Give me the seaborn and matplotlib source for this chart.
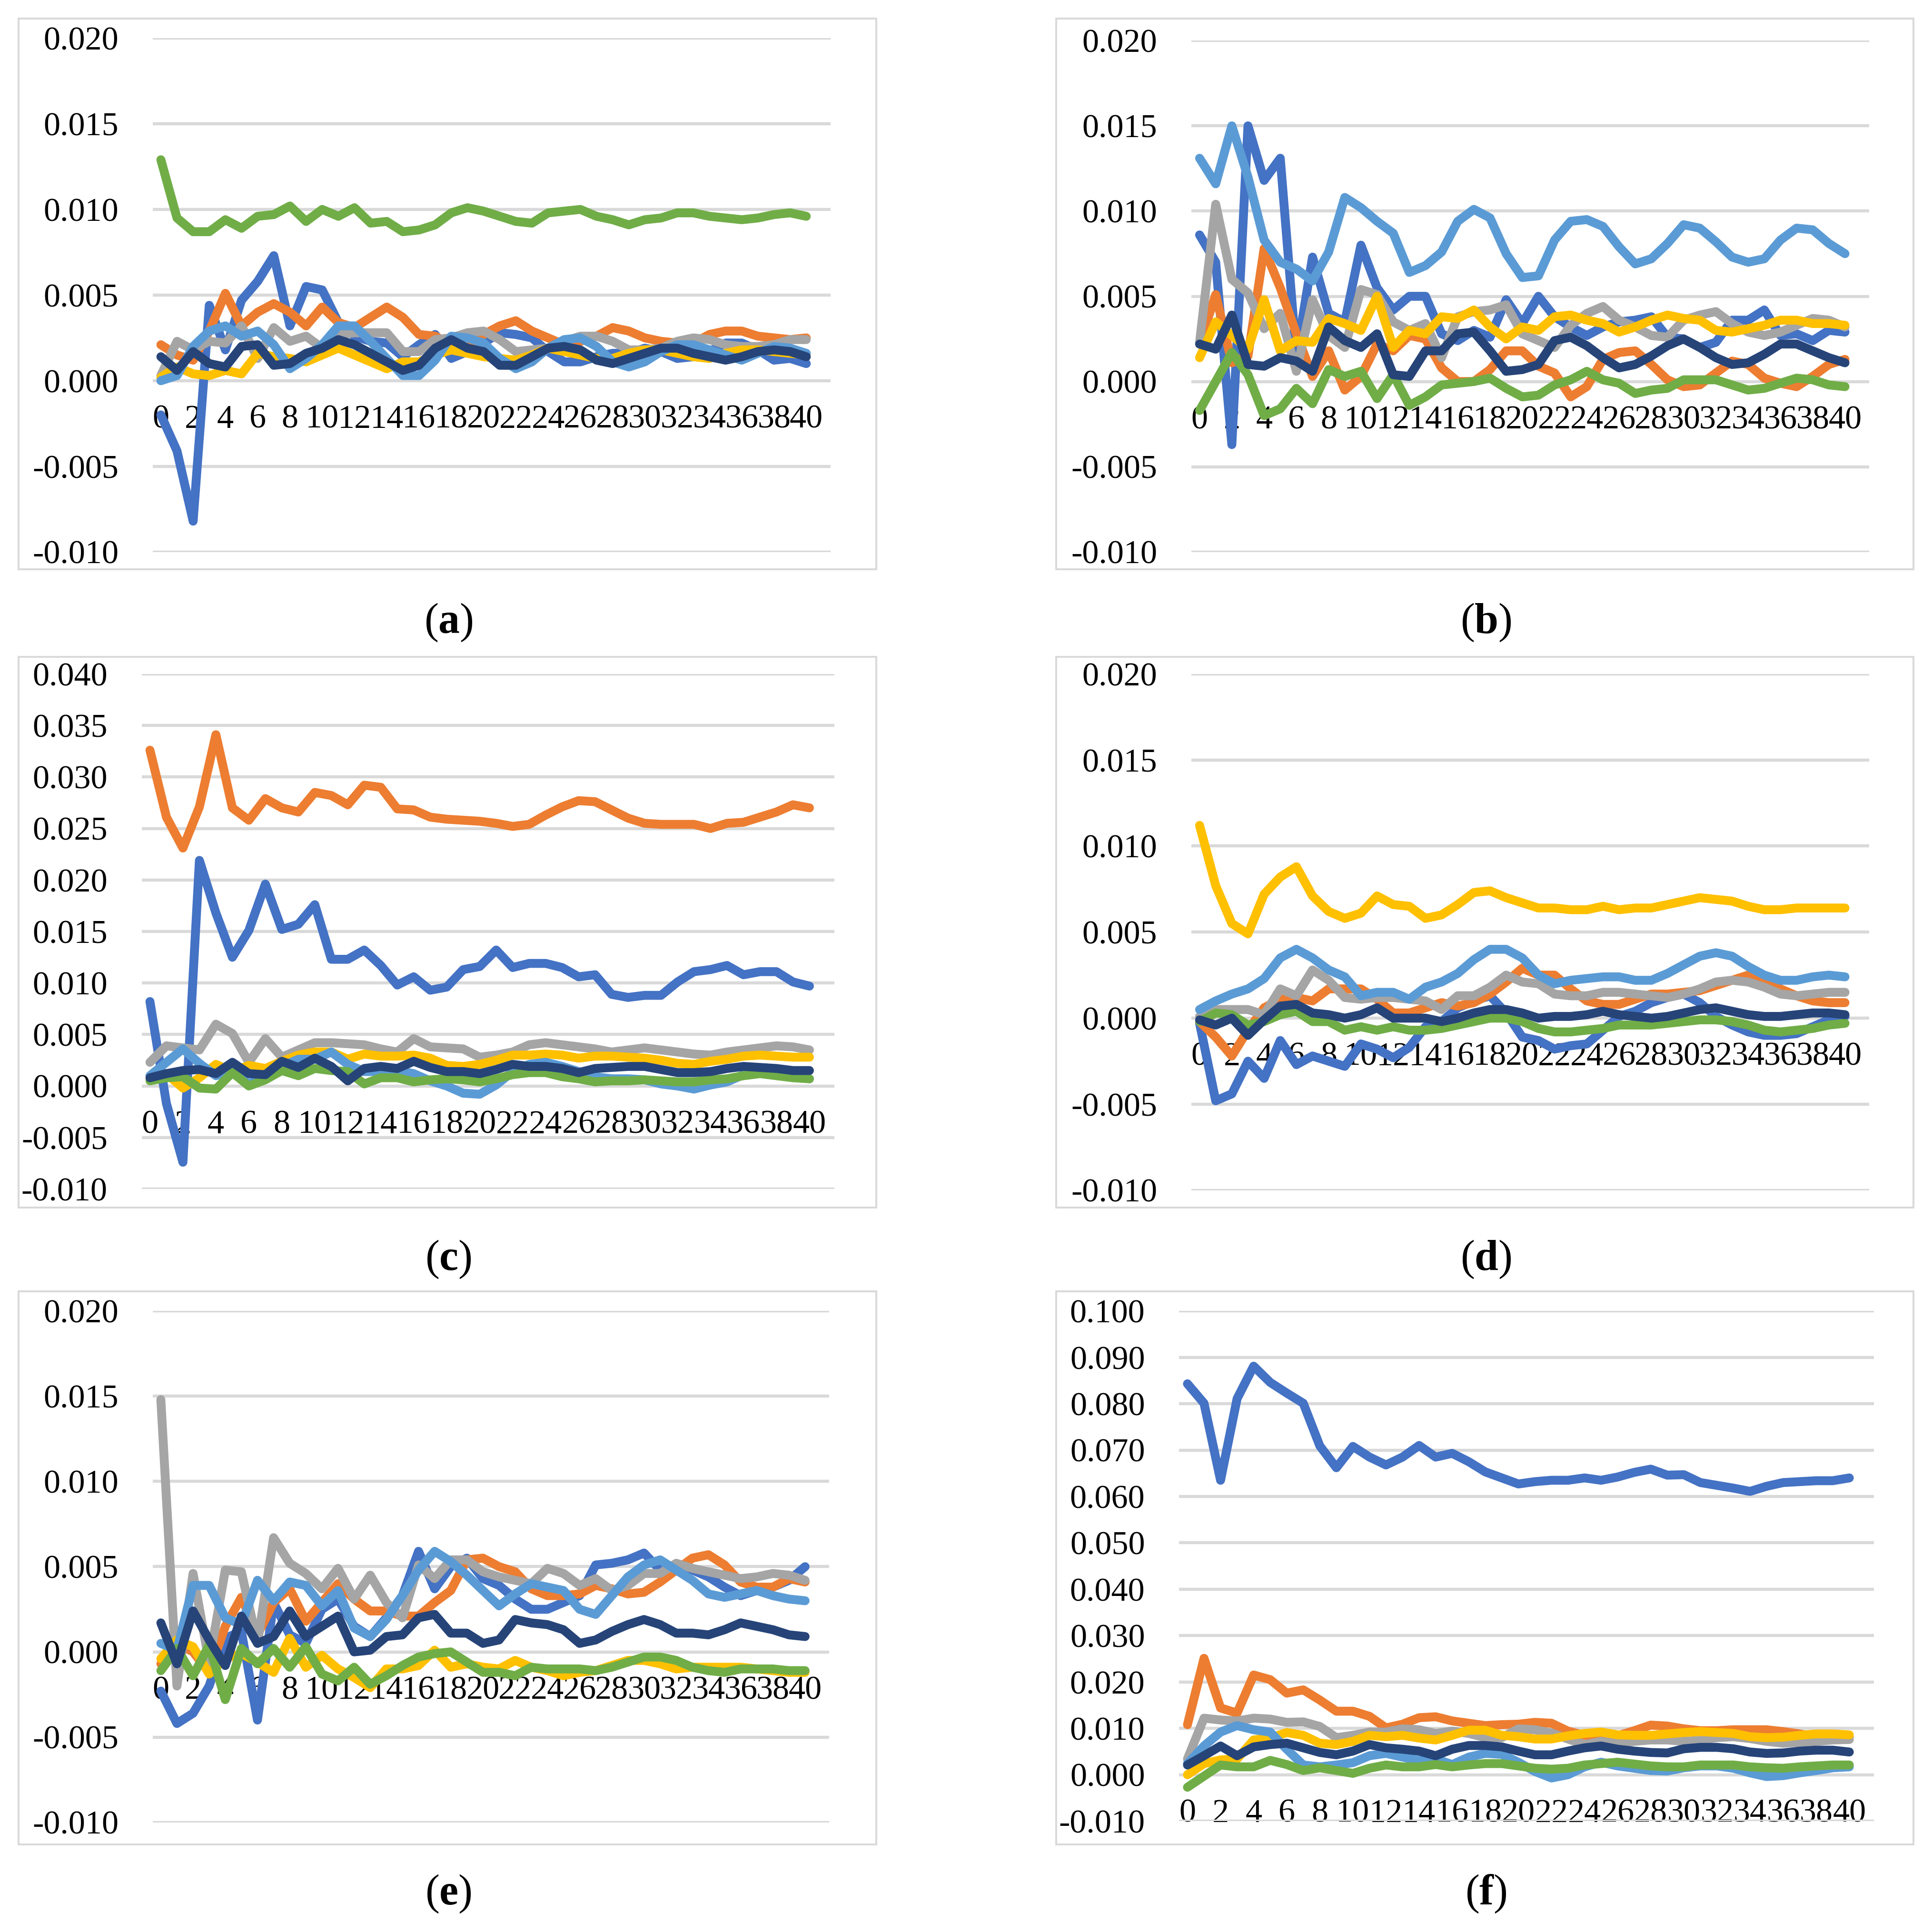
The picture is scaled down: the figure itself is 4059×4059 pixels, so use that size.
import pandas as pd
import seaborn as sns
import matplotlib.pyplot as plt
from matplotlib.patches import Rectangle
from matplotlib.ticker import FormatStrFormatter

# x axis: 41 steps, labelled every second step
steps = list(range(41))
tick_steps = list(range(0, 41, 2))

series_names = ["S1", "S2", "S3", "S4", "S5", "S6", "S7"]
colors = ["#4472C4", "#ED7D31", "#A5A5A5", "#FFC000", "#5B9BD5", "#70AD47", "#264478"]

# ---- panel (a)
a_s1 = [-0.0020, -0.0041, -0.0082, 0.0044, 0.0018, 0.0047, 0.0058, 0.0073, 0.0032, 0.0055, 0.0053, 0.0034, 0.0026, 0.0023, 0.0022, 0.0014, 0.0021, 0.0027, 0.0013, 0.0017, 0.0022, 0.0028, 0.0027, 0.0025, 0.0017, 0.0011, 0.0011, 0.0014, 0.0016, 0.0016, 0.0019, 0.0017, 0.0013, 0.0014, 0.0017, 0.0022, 0.0022, 0.0018, 0.0012, 0.0013, 0.0010]
a_s2 = [0.0021, 0.0015, 0.0012, 0.0029, 0.0051, 0.0032, 0.0040, 0.0045, 0.0040, 0.0032, 0.0043, 0.0034, 0.0031, 0.0037, 0.0043, 0.0037, 0.0027, 0.0026, 0.0021, 0.0019, 0.0027, 0.0032, 0.0035, 0.0029, 0.0025, 0.0021, 0.0023, 0.0026, 0.0031, 0.0029, 0.0025, 0.0023, 0.0022, 0.0022, 0.0027, 0.0029, 0.0029, 0.0026, 0.0025, 0.0024, 0.0025]
a_s3 = [0.0003, 0.0023, 0.0018, 0.0023, 0.0022, 0.0032, 0.0013, 0.0031, 0.0023, 0.0026, 0.0019, 0.0027, 0.0028, 0.0028, 0.0028, 0.0017, 0.0017, 0.0024, 0.0025, 0.0028, 0.0029, 0.0024, 0.0017, 0.0018, 0.0019, 0.0023, 0.0026, 0.0026, 0.0023, 0.0018, 0.0018, 0.0019, 0.0023, 0.0025, 0.0024, 0.0021, 0.0020, 0.0020, 0.0021, 0.0024, 0.0024]
a_s4 = [0.0002, 0.0008, 0.0004, 0.0003, 0.0006, 0.0004, 0.0016, 0.0014, 0.0013, 0.0011, 0.0015, 0.0019, 0.0015, 0.0011, 0.0007, 0.0011, 0.0011, 0.0015, 0.0018, 0.0016, 0.0014, 0.0013, 0.0012, 0.0015, 0.0019, 0.0017, 0.0015, 0.0013, 0.0013, 0.0016, 0.0018, 0.0018, 0.0016, 0.0014, 0.0013, 0.0016, 0.0018, 0.0018, 0.0017, 0.0016, 0.0015]
a_s5 = [0.0000, 0.0003, 0.0020, 0.0029, 0.0032, 0.0026, 0.0029, 0.0021, 0.0007, 0.0013, 0.0021, 0.0032, 0.0032, 0.0023, 0.0013, 0.0003, 0.0003, 0.0012, 0.0026, 0.0025, 0.0022, 0.0013, 0.0007, 0.0011, 0.0019, 0.0024, 0.0025, 0.0020, 0.0011, 0.0008, 0.0011, 0.0017, 0.0021, 0.0021, 0.0018, 0.0015, 0.0012, 0.0016, 0.0020, 0.0019, 0.0016]
a_s6 = [0.0129, 0.0095, 0.0087, 0.0087, 0.0094, 0.0089, 0.0096, 0.0097, 0.0102, 0.0093, 0.0100, 0.0096, 0.0101, 0.0092, 0.0093, 0.0087, 0.0088, 0.0091, 0.0098, 0.0101, 0.0099, 0.0096, 0.0093, 0.0092, 0.0098, 0.0099, 0.0100, 0.0096, 0.0094, 0.0091, 0.0094, 0.0095, 0.0098, 0.0098, 0.0096, 0.0095, 0.0094, 0.0095, 0.0097, 0.0098, 0.0096]
a_s7 = [0.0014, 0.0006, 0.0017, 0.0010, 0.0008, 0.0020, 0.0021, 0.0009, 0.0010, 0.0016, 0.0019, 0.0024, 0.0021, 0.0016, 0.0011, 0.0006, 0.0009, 0.0019, 0.0024, 0.0019, 0.0017, 0.0009, 0.0009, 0.0014, 0.0019, 0.0020, 0.0018, 0.0012, 0.0010, 0.0013, 0.0016, 0.0019, 0.0019, 0.0016, 0.0014, 0.0012, 0.0014, 0.0017, 0.0018, 0.0017, 0.0014]

# ---- panel (b)
b_s1 = [0.0086, 0.0070, -0.0037, 0.0150, 0.0118, 0.0131, 0.0015, 0.0073, 0.0040, 0.0035, 0.0080, 0.0055, 0.0042, 0.0050, 0.0050, 0.0028, 0.0024, 0.0030, 0.0026, 0.0048, 0.0034, 0.0050, 0.0038, 0.0032, 0.0027, 0.0032, 0.0035, 0.0036, 0.0038, 0.0026, 0.0025, 0.0020, 0.0023, 0.0036, 0.0036, 0.0042, 0.0027, 0.0028, 0.0024, 0.0030, 0.0029]
b_s2 = [0.0022, 0.0051, 0.0011, 0.0015, 0.0078, 0.0055, 0.0028, 0.0003, 0.0018, -0.0005, 0.0003, 0.0022, 0.0018, 0.0027, 0.0025, 0.0008, 0.0000, 0.0000, 0.0007, 0.0018, 0.0018, 0.0009, 0.0005, -0.0009, -0.0003, 0.0013, 0.0017, 0.0018, 0.0010, 0.0001, -0.0003, -0.0002, 0.0005, 0.0012, 0.0010, 0.0002, -0.0001, -0.0003, 0.0003, 0.0010, 0.0013]
b_s3 = [0.0023, 0.0104, 0.0060, 0.0052, 0.0031, 0.0040, 0.0006, 0.0048, 0.0027, 0.0020, 0.0054, 0.0051, 0.0035, 0.0030, 0.0034, 0.0014, 0.0038, 0.0041, 0.0042, 0.0045, 0.0028, 0.0024, 0.0020, 0.0033, 0.0040, 0.0044, 0.0036, 0.0032, 0.0027, 0.0026, 0.0036, 0.0039, 0.0041, 0.0034, 0.0029, 0.0027, 0.0029, 0.0033, 0.0037, 0.0036, 0.0032]
b_s4 = [0.0014, 0.0035, 0.0027, 0.0019, 0.0048, 0.0018, 0.0024, 0.0023, 0.0037, 0.0034, 0.0030, 0.0050, 0.0020, 0.0030, 0.0028, 0.0038, 0.0037, 0.0042, 0.0032, 0.0025, 0.0032, 0.0030, 0.0038, 0.0039, 0.0036, 0.0034, 0.0029, 0.0032, 0.0036, 0.0039, 0.0037, 0.0036, 0.0030, 0.0029, 0.0031, 0.0033, 0.0036, 0.0036, 0.0034, 0.0034, 0.0033]
b_s5 = [0.0131, 0.0116, 0.0150, 0.0120, 0.0083, 0.0070, 0.0066, 0.0059, 0.0076, 0.0108, 0.0102, 0.0094, 0.0087, 0.0064, 0.0068, 0.0076, 0.0094, 0.0101, 0.0096, 0.0075, 0.0061, 0.0062, 0.0083, 0.0094, 0.0095, 0.0091, 0.0079, 0.0069, 0.0072, 0.0081, 0.0092, 0.0090, 0.0082, 0.0073, 0.0070, 0.0072, 0.0083, 0.0090, 0.0089, 0.0081, 0.0075]
b_s6 = [-0.0017, 0.0000, 0.0017, 0.0004, -0.0020, -0.0016, -0.0004, -0.0013, 0.0007, 0.0003, 0.0006, -0.0010, 0.0004, -0.0014, -0.0009, -0.0002, -0.0001, 0.0000, 0.0002, -0.0004, -0.0009, -0.0008, -0.0002, 0.0001, 0.0006, 0.0001, -0.0001, -0.0007, -0.0005, -0.0004, 0.0001, 0.0001, 0.0001, -0.0002, -0.0005, -0.0004, -0.0001, 0.0002, 0.0001, -0.0002, -0.0003]
b_s7 = [0.0022, 0.0019, 0.0039, 0.0010, 0.0009, 0.0014, 0.0012, 0.0006, 0.0032, 0.0024, 0.0020, 0.0028, 0.0004, 0.0003, 0.0018, 0.0018, 0.0028, 0.0029, 0.0018, 0.0006, 0.0007, 0.0010, 0.0024, 0.0026, 0.0021, 0.0014, 0.0008, 0.0010, 0.0015, 0.0021, 0.0025, 0.0020, 0.0014, 0.0010, 0.0011, 0.0016, 0.0022, 0.0022, 0.0018, 0.0014, 0.0011]

# ---- panel (c)
c_s1 = [0.0082, -0.0017, -0.0074, 0.0219, 0.0168, 0.0125, 0.0151, 0.0196, 0.0152, 0.0157, 0.0176, 0.0123, 0.0123, 0.0132, 0.0117, 0.0098, 0.0106, 0.0093, 0.0096, 0.0113, 0.0116, 0.0132, 0.0115, 0.0119, 0.0119, 0.0115, 0.0106, 0.0108, 0.0089, 0.0086, 0.0088, 0.0088, 0.0101, 0.0111, 0.0113, 0.0117, 0.0108, 0.0111, 0.0111, 0.0101, 0.0097]
c_s2 = [0.0326, 0.0261, 0.0231, 0.0271, 0.0341, 0.0270, 0.0258, 0.0279, 0.0270, 0.0266, 0.0285, 0.0282, 0.0273, 0.0292, 0.0290, 0.0269, 0.0268, 0.0261, 0.0259, 0.0258, 0.0257, 0.0255, 0.0252, 0.0254, 0.0263, 0.0271, 0.0277, 0.0276, 0.0268, 0.0260, 0.0255, 0.0254, 0.0254, 0.0254, 0.0250, 0.0255, 0.0256, 0.0261, 0.0266, 0.0273, 0.0270]
c_s3 = [0.0023, 0.0039, 0.0037, 0.0035, 0.0060, 0.0051, 0.0023, 0.0046, 0.0028, 0.0035, 0.0042, 0.0042, 0.0041, 0.0040, 0.0036, 0.0033, 0.0046, 0.0038, 0.0037, 0.0036, 0.0028, 0.0030, 0.0033, 0.0040, 0.0042, 0.0040, 0.0038, 0.0036, 0.0033, 0.0035, 0.0037, 0.0035, 0.0033, 0.0031, 0.0030, 0.0033, 0.0035, 0.0037, 0.0039, 0.0038, 0.0035]
c_s4 = [0.0007, 0.0012, -0.0002, 0.0008, 0.0021, 0.0014, 0.0020, 0.0017, 0.0024, 0.0030, 0.0033, 0.0033, 0.0026, 0.0031, 0.0029, 0.0029, 0.0030, 0.0027, 0.0020, 0.0019, 0.0021, 0.0025, 0.0030, 0.0030, 0.0031, 0.0030, 0.0027, 0.0029, 0.0029, 0.0028, 0.0027, 0.0025, 0.0022, 0.0021, 0.0024, 0.0026, 0.0029, 0.0030, 0.0029, 0.0028, 0.0028]
c_s5 = [0.0010, 0.0023, 0.0036, 0.0022, 0.0010, 0.0014, 0.0002, 0.0010, 0.0019, 0.0026, 0.0026, 0.0033, 0.0021, 0.0014, 0.0014, 0.0015, 0.0012, 0.0005, 0.0000, -0.0007, -0.0008, 0.0001, 0.0014, 0.0021, 0.0023, 0.0019, 0.0014, 0.0009, 0.0007, 0.0007, 0.0006, 0.0002, 0.0000, -0.0003, 0.0001, 0.0004, 0.0011, 0.0014, 0.0013, 0.0010, 0.0007]
c_s6 = [0.0005, 0.0008, 0.0009, -0.0002, -0.0003, 0.0013, 0.0000, 0.0006, 0.0015, 0.0010, 0.0017, 0.0015, 0.0014, 0.0002, 0.0008, 0.0008, 0.0004, 0.0006, 0.0007, 0.0006, 0.0004, 0.0007, 0.0011, 0.0013, 0.0013, 0.0009, 0.0007, 0.0004, 0.0005, 0.0005, 0.0006, 0.0005, 0.0004, 0.0004, 0.0006, 0.0007, 0.0010, 0.0012, 0.0010, 0.0008, 0.0007]
c_s7 = [0.0008, 0.0012, 0.0015, 0.0016, 0.0012, 0.0023, 0.0012, 0.0011, 0.0024, 0.0018, 0.0027, 0.0019, 0.0005, 0.0017, 0.0019, 0.0017, 0.0024, 0.0018, 0.0014, 0.0014, 0.0012, 0.0016, 0.0021, 0.0019, 0.0019, 0.0017, 0.0013, 0.0017, 0.0018, 0.0019, 0.0019, 0.0016, 0.0013, 0.0013, 0.0014, 0.0017, 0.0019, 0.0018, 0.0017, 0.0015, 0.0015]

# ---- panel (d)
d_s1 = [-0.0003, -0.0048, -0.0044, -0.0025, -0.0035, -0.0013, -0.0027, -0.0022, -0.0025, -0.0028, -0.0015, -0.0018, -0.0023, -0.0017, -0.0005, -0.0002, 0.0006, 0.0010, 0.0013, 0.0003, -0.0011, -0.0013, -0.0018, -0.0016, -0.0015, -0.0007, 0.0001, 0.0004, 0.0009, 0.0012, 0.0014, 0.0009, 0.0001, -0.0004, -0.0008, -0.0010, -0.0010, -0.0009, -0.0005, -0.0001, 0.0001]
d_s2 = [-0.0002, -0.0011, -0.0022, -0.0007, 0.0006, 0.0011, 0.0012, 0.0010, 0.0017, 0.0017, 0.0017, 0.0011, 0.0003, 0.0003, 0.0006, 0.0009, 0.0007, 0.0009, 0.0014, 0.0021, 0.0029, 0.0025, 0.0025, 0.0017, 0.0010, 0.0008, 0.0008, 0.0011, 0.0014, 0.0014, 0.0015, 0.0016, 0.0019, 0.0022, 0.0025, 0.0021, 0.0017, 0.0013, 0.0010, 0.0009, 0.0009]
d_s3 = [0.0001, 0.0005, 0.0005, 0.0005, 0.0002, 0.0017, 0.0013, 0.0028, 0.0022, 0.0012, 0.0011, 0.0012, 0.0012, 0.0011, 0.0010, 0.0005, 0.0013, 0.0013, 0.0018, 0.0025, 0.0021, 0.0020, 0.0014, 0.0013, 0.0013, 0.0015, 0.0015, 0.0014, 0.0013, 0.0012, 0.0014, 0.0017, 0.0021, 0.0022, 0.0021, 0.0018, 0.0014, 0.0013, 0.0014, 0.0015, 0.0015]
d_s4 = [0.0112, 0.0077, 0.0055, 0.0049, 0.0072, 0.0082, 0.0088, 0.0071, 0.0062, 0.0058, 0.0061, 0.0071, 0.0066, 0.0065, 0.0058, 0.0060, 0.0066, 0.0073, 0.0074, 0.0070, 0.0067, 0.0064, 0.0064, 0.0063, 0.0063, 0.0065, 0.0063, 0.0064, 0.0064, 0.0066, 0.0068, 0.0070, 0.0069, 0.0068, 0.0065, 0.0063, 0.0063, 0.0064, 0.0064, 0.0064, 0.0064]
d_s5 = [0.0005, 0.0010, 0.0014, 0.0017, 0.0023, 0.0035, 0.0040, 0.0035, 0.0028, 0.0024, 0.0013, 0.0015, 0.0015, 0.0011, 0.0018, 0.0021, 0.0026, 0.0034, 0.0040, 0.0040, 0.0035, 0.0025, 0.0020, 0.0022, 0.0023, 0.0024, 0.0024, 0.0022, 0.0022, 0.0026, 0.0031, 0.0036, 0.0038, 0.0036, 0.0030, 0.0025, 0.0022, 0.0022, 0.0024, 0.0025, 0.0024]
d_s6 = [-0.0002, 0.0003, 0.0002, -0.0004, -0.0002, 0.0002, 0.0004, -0.0002, -0.0002, -0.0007, -0.0005, -0.0007, -0.0005, -0.0007, -0.0007, -0.0006, -0.0004, -0.0002, 0.0000, 0.0000, -0.0002, -0.0006, -0.0008, -0.0008, -0.0007, -0.0006, -0.0004, -0.0004, -0.0004, -0.0003, -0.0002, -0.0001, -0.0001, -0.0002, -0.0004, -0.0007, -0.0008, -0.0007, -0.0006, -0.0004, -0.0003]
d_s7 = [-0.0001, -0.0004, 0.0000, -0.0010, -0.0001, 0.0007, 0.0008, 0.0003, 0.0002, 0.0000, 0.0002, 0.0006, 0.0000, 0.0000, 0.0000, -0.0002, 0.0000, 0.0003, 0.0005, 0.0005, 0.0003, 0.0000, 0.0001, 0.0001, 0.0002, 0.0004, 0.0002, 0.0001, 0.0000, 0.0001, 0.0003, 0.0005, 0.0006, 0.0004, 0.0002, 0.0001, 0.0001, 0.0002, 0.0003, 0.0003, 0.0002]

# ---- panel (e)
e_s1 = [-0.0023, -0.0042, -0.0036, -0.0020, 0.0008, 0.0012, -0.0040, 0.0029, 0.0010, 0.0005, 0.0025, 0.0031, 0.0015, 0.0009, 0.0020, 0.0033, 0.0059, 0.0037, 0.0050, 0.0055, 0.0043, 0.0039, 0.0031, 0.0025, 0.0025, 0.0029, 0.0033, 0.0051, 0.0052, 0.0054, 0.0058, 0.0048, 0.0050, 0.0048, 0.0044, 0.0038, 0.0033, 0.0036, 0.0038, 0.0042, 0.0050]
e_s2 = [-0.0007, 0.0005, 0.0000, -0.0012, 0.0015, 0.0032, 0.0010, 0.0029, 0.0037, 0.0018, 0.0029, 0.0040, 0.0031, 0.0024, 0.0024, 0.0021, 0.0021, 0.0029, 0.0036, 0.0054, 0.0055, 0.0050, 0.0047, 0.0037, 0.0033, 0.0033, 0.0034, 0.0039, 0.0037, 0.0034, 0.0035, 0.0041, 0.0048, 0.0055, 0.0057, 0.0051, 0.0041, 0.0038, 0.0038, 0.0043, 0.0041]
e_s3 = [0.0148, -0.0020, 0.0046, -0.0006, 0.0048, 0.0047, 0.0005, 0.0067, 0.0052, 0.0046, 0.0037, 0.0049, 0.0031, 0.0045, 0.0029, 0.0020, 0.0051, 0.0043, 0.0054, 0.0054, 0.0047, 0.0044, 0.0042, 0.0040, 0.0049, 0.0046, 0.0039, 0.0043, 0.0036, 0.0039, 0.0046, 0.0046, 0.0052, 0.0049, 0.0047, 0.0045, 0.0043, 0.0044, 0.0046, 0.0045, 0.0042]
e_s4 = [-0.0004, 0.0007, 0.0003, -0.0013, -0.0004, -0.0001, -0.0006, -0.0012, 0.0008, -0.0009, -0.0002, -0.0010, -0.0015, -0.0021, -0.0010, -0.0010, -0.0008, 0.0001, -0.0009, -0.0007, -0.0009, -0.0010, -0.0005, -0.0009, -0.0011, -0.0014, -0.0012, -0.0011, -0.0008, -0.0005, -0.0005, -0.0007, -0.0010, -0.0009, -0.0009, -0.0009, -0.0009, -0.0010, -0.0011, -0.0012, -0.0012]
e_s5 = [0.0005, 0.0001, 0.0039, 0.0039, 0.0020, 0.0016, 0.0042, 0.0030, 0.0041, 0.0039, 0.0027, 0.0036, 0.0014, 0.0009, 0.0019, 0.0033, 0.0048, 0.0059, 0.0053, 0.0045, 0.0036, 0.0027, 0.0034, 0.0040, 0.0038, 0.0036, 0.0025, 0.0022, 0.0033, 0.0044, 0.0051, 0.0054, 0.0048, 0.0042, 0.0034, 0.0032, 0.0034, 0.0036, 0.0033, 0.0031, 0.0030]
e_s6 = [-0.0011, 0.0002, -0.0014, 0.0004, -0.0028, 0.0002, -0.0007, 0.0002, -0.0009, 0.0003, -0.0013, -0.0017, -0.0009, -0.0019, -0.0014, -0.0008, -0.0003, -0.0001, 0.0000, -0.0006, -0.0012, -0.0012, -0.0014, -0.0009, -0.0010, -0.0010, -0.0010, -0.0011, -0.0009, -0.0006, -0.0003, -0.0003, -0.0005, -0.0009, -0.0011, -0.0012, -0.0010, -0.0010, -0.0010, -0.0011, -0.0011]
e_s7 = [0.0017, -0.0007, 0.0024, 0.0007, -0.0008, 0.0021, 0.0005, 0.0009, 0.0024, 0.0009, 0.0015, 0.0021, 0.0000, 0.0001, 0.0009, 0.0010, 0.0020, 0.0022, 0.0011, 0.0011, 0.0005, 0.0007, 0.0019, 0.0017, 0.0016, 0.0013, 0.0005, 0.0007, 0.0012, 0.0016, 0.0019, 0.0016, 0.0011, 0.0011, 0.0010, 0.0013, 0.0017, 0.0015, 0.0013, 0.0010, 0.0009]

# ---- panel (f)
f_s1 = [0.0843, 0.0801, 0.0635, 0.0811, 0.0881, 0.0846, 0.0823, 0.0801, 0.0709, 0.0662, 0.0708, 0.0685, 0.0668, 0.0685, 0.0710, 0.0685, 0.0693, 0.0675, 0.0653, 0.0640, 0.0627, 0.0632, 0.0635, 0.0635, 0.0640, 0.0635, 0.0642, 0.0652, 0.0659, 0.0646, 0.0647, 0.0630, 0.0624, 0.0618, 0.0611, 0.0622, 0.0630, 0.0632, 0.0634, 0.0634, 0.0640]
f_s2 = [0.0108, 0.0251, 0.0144, 0.0133, 0.0215, 0.0205, 0.0176, 0.0183, 0.0161, 0.0137, 0.0137, 0.0126, 0.0101, 0.0109, 0.0123, 0.0125, 0.0116, 0.0111, 0.0106, 0.0108, 0.0109, 0.0113, 0.0111, 0.0094, 0.0085, 0.0084, 0.0084, 0.0095, 0.0107, 0.0105, 0.0099, 0.0095, 0.0095, 0.0097, 0.0097, 0.0097, 0.0093, 0.0088, 0.0082, 0.0085, 0.0082]
f_s3 = [0.0034, 0.0122, 0.0118, 0.0116, 0.0122, 0.0120, 0.0113, 0.0114, 0.0104, 0.0080, 0.0085, 0.0092, 0.0092, 0.0099, 0.0097, 0.0089, 0.0094, 0.0089, 0.0080, 0.0080, 0.0099, 0.0097, 0.0090, 0.0077, 0.0065, 0.0072, 0.0068, 0.0072, 0.0075, 0.0075, 0.0072, 0.0074, 0.0080, 0.0082, 0.0078, 0.0072, 0.0068, 0.0070, 0.0072, 0.0075, 0.0076]
f_s4 = [0.0000, 0.0024, 0.0032, 0.0034, 0.0075, 0.0079, 0.0091, 0.0085, 0.0068, 0.0065, 0.0072, 0.0085, 0.0082, 0.0085, 0.0079, 0.0075, 0.0085, 0.0096, 0.0096, 0.0085, 0.0082, 0.0077, 0.0077, 0.0084, 0.0089, 0.0092, 0.0086, 0.0085, 0.0085, 0.0088, 0.0091, 0.0093, 0.0091, 0.0089, 0.0082, 0.0080, 0.0081, 0.0085, 0.0088, 0.0088, 0.0086]
f_s5 = [0.0024, 0.0062, 0.0092, 0.0106, 0.0097, 0.0092, 0.0055, 0.0021, 0.0017, 0.0021, 0.0026, 0.0041, 0.0046, 0.0038, 0.0031, 0.0034, 0.0022, 0.0038, 0.0046, 0.0044, 0.0027, 0.0007, -0.0007, 0.0000, 0.0017, 0.0027, 0.0019, 0.0014, 0.0009, 0.0008, 0.0015, 0.0019, 0.0019, 0.0014, 0.0004, -0.0004, -0.0002, 0.0004, 0.0009, 0.0015, 0.0017]
f_s6 = [-0.0027, -0.0003, 0.0021, 0.0017, 0.0017, 0.0031, 0.0022, 0.0009, 0.0015, 0.0009, 0.0003, 0.0014, 0.0021, 0.0017, 0.0017, 0.0022, 0.0017, 0.0021, 0.0024, 0.0024, 0.0019, 0.0014, 0.0012, 0.0014, 0.0021, 0.0024, 0.0027, 0.0023, 0.0019, 0.0017, 0.0017, 0.0021, 0.0021, 0.0021, 0.0017, 0.0015, 0.0014, 0.0017, 0.0019, 0.0021, 0.0021]
f_s7 = [0.0021, 0.0041, 0.0062, 0.0041, 0.0060, 0.0065, 0.0068, 0.0058, 0.0048, 0.0043, 0.0051, 0.0065, 0.0058, 0.0055, 0.0051, 0.0041, 0.0055, 0.0063, 0.0063, 0.0060, 0.0051, 0.0043, 0.0043, 0.0051, 0.0058, 0.0062, 0.0055, 0.0051, 0.0048, 0.0047, 0.0056, 0.0059, 0.0059, 0.0056, 0.0049, 0.0046, 0.0047, 0.0051, 0.0053, 0.0053, 0.0049]

panel_labels = ["a", "b", "c", "d", "e", "f"]
panel_series = [
    [a_s1, a_s2, a_s3, a_s4, a_s5, a_s6, a_s7],
    [b_s1, b_s2, b_s3, b_s4, b_s5, b_s6, b_s7],
    [c_s1, c_s2, c_s3, c_s4, c_s5, c_s6, c_s7],
    [d_s1, d_s2, d_s3, d_s4, d_s5, d_s6, d_s7],
    [e_s1, e_s2, e_s3, e_s4, e_s5, e_s6, e_s7],
    [f_s1, f_s2, f_s3, f_s4, f_s5, f_s6, f_s7],
]
# y axis range and step per panel
y_min = [-0.010, -0.010, -0.010, -0.010, -0.010, -0.010]
y_max = [0.020, 0.020, 0.040, 0.020, 0.020, 0.100]
y_step = [0.005, 0.005, 0.005, 0.005, 0.005, 0.010]

# layout in pixels of a 1568 px canvas (scaled up on save)
W = 1568.0
boxes = [(15, 15, 711, 462), (857, 15, 1553, 462),
         (15, 533, 711, 980), (857, 533, 1553, 980),
         (15, 1048, 711, 1497), (857, 1048, 1553, 1497)]
plot_areas = [(124, 31, 674, 448), (967, 33, 1517, 448),
              (115, 547, 677, 965), (967, 547, 1517, 966),
              (124, 1064, 673, 1479), (957, 1064, 1521, 1478)]
label_pos = [(364, 505), (1206, 505), (364, 1022), (1206, 1022), (364, 1537), (1206, 1537)]

sns.set_theme(style="white")
plt.rcParams["font.family"] = ["Liberation Serif", "DejaVu Serif"]
plt.rcParams["mathtext.fontset"] = "custom"
plt.rcParams["mathtext.rm"] = "Liberation Serif"
plt.rcParams["mathtext.bf"] = "Liberation Serif:bold"
plt.rcParams["axes.unicode_minus"] = False

fig = plt.figure(figsize=(15.68, 15.68))
grid_c = "#D9D9D9"

for i in range(6):
    x0, y0, x1, y1 = boxes[i]
    fig.add_artist(Rectangle((x0 / W, 1 - y1 / W), (x1 - x0) / W, (y1 - y0) / W,
                             transform=fig.transFigure, fill=False,
                             edgecolor=grid_c, linewidth=1.1))
    l, t, r, b = plot_areas[i]
    ax = fig.add_axes([l / W, 1 - b / W, (r - l) / W, (b - t) / W])

    rows = []
    for name, vals in zip(series_names, panel_series[i]):
        for s, v in zip(steps, vals):
            rows.append({"step": s, "value": v, "series": name})
    df = pd.DataFrame(rows)

    sns.lineplot(data=df, x="step", y="value", hue="series", hue_order=series_names,
                 palette=colors, legend=False, ax=ax, estimator=None, sort=False,
                 lw=5.2)
    for ln in ax.lines:
        ln.set_linewidth(5.2)
        ln.set_solid_capstyle("round")
        ln.set_solid_joinstyle("round")

    ax.set_xlim(-0.5, 41.5)
    ax.set_ylim(y_min[i], y_max[i])
    n = int(round((y_max[i] - y_min[i]) / y_step[i]))
    ax.set_yticks([y_min[i] + k * y_step[i] for k in range(n + 1)])
    ax.yaxis.set_major_formatter(FormatStrFormatter("%.3f"))
    ax.set_xticks(tick_steps)
    ax.set_xticklabels([str(s) for s in tick_steps])
    ax.grid(axis="y", color=grid_c, linewidth=1.8)
    ax.grid(axis="x", visible=False)
    ax.set_axisbelow(True)
    for sp in ["top", "right", "left"]:
        ax.spines[sp].set_visible(False)
    # category labels sit under the zero line, like the Excel axis
    ax.spines["bottom"].set_position(("data", 0))
    ax.spines["bottom"].set_color("none")
    ax.tick_params(axis="x", length=0, pad=14, labelsize=19.5, colors="black")
    ax.tick_params(axis="y", length=0, pad=20, labelsize=19.5, colors="black")
    ax.set_xlabel("")
    ax.set_ylabel("")
    ax.patch.set_alpha(0)

    lx, ly = label_pos[i]
    fig.text(lx / W, 1 - ly / W, "($\\mathbf{" + panel_labels[i] + "}$)",
             ha="center", va="center", fontsize=25, color="black")

plt.savefig("out.png", dpi=258.87)
